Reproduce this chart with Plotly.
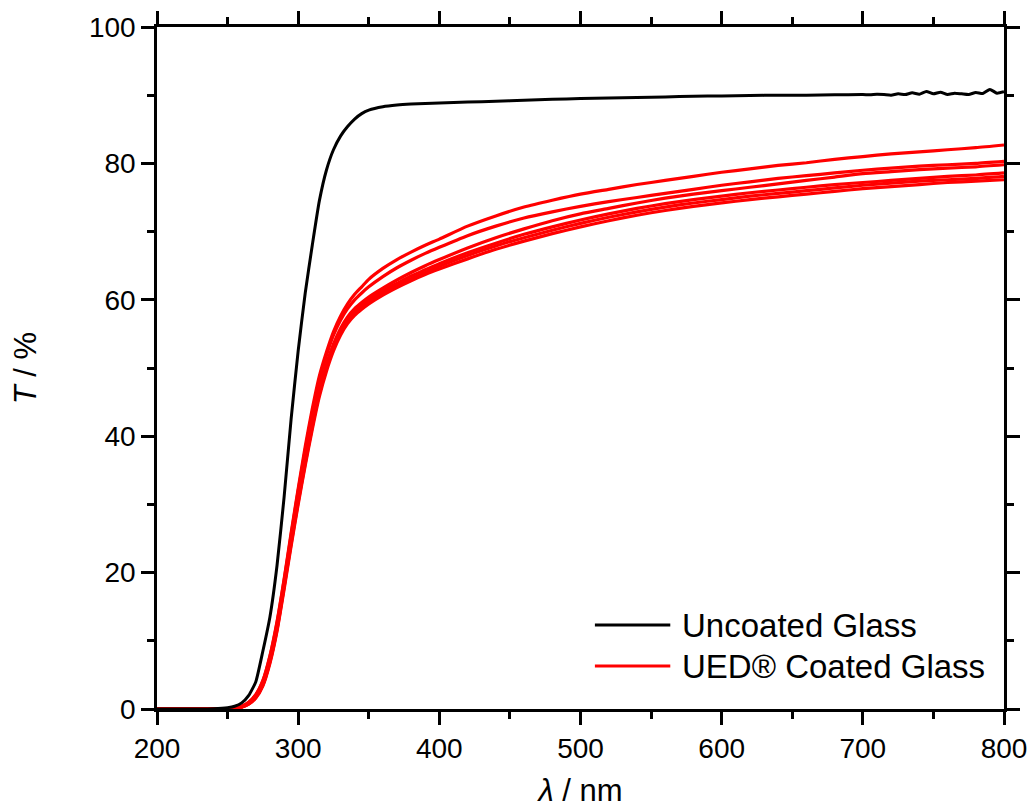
import plotly.graph_objects as go

# Wavelength grid (nm) for the coated samples
wavelength = [200, 210, 220, 230, 240, 250, 255, 260, 265, 270, 275, 280, 285, 290, 295,
              300, 305, 310, 315, 320, 325, 330, 335, 340, 345, 350, 360, 370, 380, 390,
              400, 420, 440, 460, 480, 500, 520, 540, 560, 580, 600, 620, 640, 660, 680,
              700, 720, 740, 760, 780, 800]

# Wavelength grid (nm) for the uncoated glass (finer at the noisy end)
wavelength_uncoated = [200, 210, 220, 230, 240, 250, 255, 260, 265, 270, 275, 280, 285, 290, 295,
                       300, 305, 310, 315, 320, 325, 330, 335, 340, 345, 350, 360, 370, 380, 390,
                       400, 420, 440, 460, 480, 500, 520, 540, 560, 580, 600, 620, 640, 660, 680,
                       700, 705, 710, 715, 720, 725, 730, 735, 740, 745, 750, 755, 760, 765, 770,
                       775, 780, 785, 790, 795, 800]

# Transmission (%) - uncoated glass
uncoated = [0, 0, 0, 0, 0.05, 0.2, 0.4, 0.9, 2.0, 4.0, 8.5, 13.5, 21.0, 31.0, 42.5,
            52.5, 61.0, 68.0, 74.5, 79.0, 82.0, 84.0, 85.4, 86.5, 87.3, 87.8, 88.3, 88.55, 88.7, 88.8,
            88.85, 89.0, 89.1, 89.25, 89.4, 89.5, 89.6, 89.65, 89.75, 89.85, 89.9, 89.95, 90.0, 90.0, 90.05,
            90.1, 90.05, 90.15, 90.1, 90.0, 90.2, 90.1, 90.35, 90.15, 90.55, 90.2, 90.45, 90.1, 90.3, 90.2,
            90.1, 90.4, 90.25, 90.85, 90.3, 90.5]

# Transmission (%) - UED coated glass samples
coated_a = [0, 0, 0, 0, 0, 0.05, 0.15, 0.4, 1.0, 2.1, 4.2, 7.8, 12.8, 19.0, 25.8,
            32.3, 38.5, 44.0, 48.8, 52.3, 55.3, 57.6, 59.4, 60.8, 61.9, 63.0, 64.6, 65.9, 67.0, 68.0,
            68.9, 70.8, 72.3, 73.6, 74.6, 75.5, 76.2, 76.9, 77.5, 78.1, 78.7, 79.2, 79.7, 80.1, 80.6,
            81.0, 81.4, 81.7, 82.0, 82.3, 82.7]
coated_b = [0, 0, 0, 0, 0, 0.05, 0.15, 0.4, 1.0, 2.1, 4.1, 7.7, 12.6, 18.8, 25.5,
            32.0, 38.0, 43.5, 48.2, 51.8, 54.8, 57.0, 58.7, 60.0, 61.0, 61.9, 63.4, 64.7, 65.8, 66.8,
            67.7, 69.4, 70.8, 72.0, 72.9, 73.7, 74.4, 75.0, 75.6, 76.2, 76.8, 77.3, 77.8, 78.2, 78.6,
            79.0, 79.3, 79.6, 79.8, 80.0, 80.3]
coated_c = [0, 0, 0, 0, 0, 0.03, 0.1, 0.3, 0.8, 1.8, 3.7, 7.2, 12.0, 18.2, 24.8,
            30.9, 36.6, 42.0, 46.8, 50.5, 53.5, 55.8, 57.5, 58.7, 59.6, 60.4, 61.7, 62.9, 64.0, 65.0,
            65.9, 67.6, 69.1, 70.4, 71.6, 72.6, 73.4, 74.2, 74.9, 75.5, 76.0, 76.5, 77.0, 77.5, 78.0,
            78.5, 78.8, 79.1, 79.3, 79.5, 79.8]
coated_d = [0, 0, 0, 0, 0, 0.03, 0.1, 0.3, 0.8, 1.8, 3.6, 7.0, 11.8, 18.0, 24.5,
            30.6, 36.3, 41.7, 46.5, 50.2, 53.2, 55.4, 57.1, 58.3, 59.2, 60.0, 61.3, 62.4, 63.5, 64.4,
            65.3, 66.9, 68.3, 69.6, 70.7, 71.7, 72.6, 73.4, 74.1, 74.7, 75.2, 75.7, 76.1, 76.5, 76.9,
            77.2, 77.5, 77.8, 78.1, 78.3, 78.6]
coated_e = [0, 0, 0, 0, 0, 0.02, 0.1, 0.3, 0.75, 1.7, 3.5, 6.9, 11.6, 17.8, 24.2,
            30.3, 36.0, 41.4, 46.2, 49.9, 52.9, 55.1, 56.8, 58.0, 58.9, 59.7, 61.0, 62.1, 63.1, 64.0,
            64.9, 66.5, 67.9, 69.1, 70.2, 71.2, 72.1, 72.9, 73.6, 74.2, 74.7, 75.2, 75.6, 76.0, 76.4,
            76.8, 77.1, 77.4, 77.6, 77.8, 78.1]
coated_f = [0, 0, 0, 0, 0, 0.02, 0.08, 0.25, 0.7, 1.6, 3.4, 6.7, 11.4, 17.5, 23.9,
            30.0, 35.7, 41.0, 45.8, 49.5, 52.5, 54.8, 56.5, 57.7, 58.6, 59.4, 60.7, 61.8, 62.8, 63.7,
            64.5, 66.0, 67.4, 68.6, 69.7, 70.7, 71.6, 72.4, 73.1, 73.7, 74.2, 74.7, 75.1, 75.5, 75.9,
            76.3, 76.6, 76.9, 77.2, 77.4, 77.6]

coated_series = [coated_a, coated_b, coated_c, coated_d, coated_e, coated_f]

x_ticks = [200, 300, 400, 500, 600, 700, 800]
y_ticks = [0, 20, 40, 60, 80, 100]
legend_labels = ["Uncoated Glass", "UED® Coated Glass"]

FONT = "Liberation Sans, Arial, sans-serif"
RED = "#ff0000"
BLACK = "#000000"

fig = go.Figure()
for s in coated_series:
    fig.add_trace(go.Scatter(x=wavelength, y=s, mode="lines",
                             line=dict(color=RED, width=3.2, shape="spline", smoothing=0.6),
                             showlegend=False, hoverinfo="skip"))
fig.add_trace(go.Scatter(x=wavelength_uncoated, y=uncoated, mode="lines",
                         line=dict(color=BLACK, width=3, shape="spline", smoothing=0.5),
                         showlegend=False, hoverinfo="skip"))

axis_common = dict(
    showline=True, linecolor=BLACK, linewidth=2.5, mirror="ticks",
    ticks="outside", ticklen=13, tickwidth=2.5, tickcolor=BLACK,
    showgrid=False, zeroline=False, automargin=False,
    tickfont=dict(family=FONT, size=28, color=BLACK),
)

fig.update_xaxes(range=[200, 800], tickvals=x_ticks,
                 minor=dict(ticks="outside", ticklen=7, tickwidth=2.5, tickcolor=BLACK, dtick=50, showgrid=False),
                 title=dict(text="<i>λ</i> / nm", font=dict(family=FONT, size=31, color=BLACK), standoff=24),
                 **axis_common)
fig.update_yaxes(range=[0, 100], tickvals=y_ticks,
                 minor=dict(ticks="outside", ticklen=7, tickwidth=2.5, tickcolor=BLACK, dtick=10, showgrid=False),
                 title=dict(text="<i>T</i> / %", font=dict(family=FONT, size=31, color=BLACK), standoff=44),
                 **axis_common)

# Legend drawn in paper coordinates (long line samples)
legend_rows = [(legend_labels[0], BLACK, 0.123), (legend_labels[1], RED, 0.063)]
for label, color, yp in legend_rows:
    fig.add_shape(type="line", xref="paper", yref="paper", x0=0.517, x1=0.606, y0=yp, y1=yp,
                  line=dict(color=color, width=3))
    fig.add_annotation(xref="paper", yref="paper", x=0.6175, y=yp, text=label, showarrow=False,
                       xanchor="left", yanchor="middle",
                       font=dict(family=FONT, size=33, color=BLACK))

fig.update_layout(
    width=1031, height=808,
    margin=dict(l=157, r=27, t=27, b=99),
    paper_bgcolor="white", plot_bgcolor="white",
    showlegend=False,
)

fig.write_html("out.html")
